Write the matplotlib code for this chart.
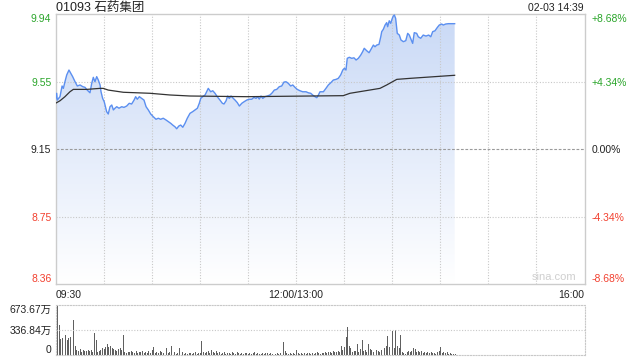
import numpy as np
import matplotlib.pyplot as plt
from matplotlib.colors import LinearSegmentedColormap

plt.rcParams['font.family'] = ['Liberation Sans', 'Noto Sans CJK SC', 'DejaVu Sans']

# Stock and session info
title = "01093 石药集团"
stamp = "02-03 14:39"
prev_close = 9.15

# Price line: trading minutes since 09:30 (lunch break removed) and price
price_min = [0, 0.75, 1.1, 2.8, 4.1, 4.9, 5.9, 7.0, 8.4, 9.5, 10.7, 12.2, 13.6, 15.3, 17, 18.4,
             19.8, 21.5, 22.6, 23.6, 24.6, 25.7, 26.7, 27.8, 28.4, 29.4, 30.4, 31.9, 32.9, 34,
             35.1, 36.1, 37.1, 38.2, 39.6, 41.3, 42.7, 44.4, 46, 47.5, 49, 50, 51, 52.3, 53.8,
             55.2, 56.5, 57.9, 59.4, 61, 62.7, 64.1, 65.6, 67.2, 68.9, 70.4, 71.9, 73.1, 74.5,
             75.6, 76.9, 78.1, 79.4, 80.8, 82.2, 83.9, 85.6, 87, 88.5, 89.7, 90.6, 91.8, 93.3,
             94.3, 95.3, 96.8, 98.1, 99.5, 100.9, 102.6, 104.1, 105.1, 106.4, 107.4, 108.4,
             109.5, 110.9, 112, 113.4, 114.7, 116.2, 117.6, 119.3, 120.7, 122.4, 123.8, 125.1,
             126.1, 127.1, 128.2, 129.3, 130.7, 132.1, 133.8, 135.2, 136.5, 138, 139.6, 141.1,
             142.5, 143.8, 145.2, 146.7, 148, 149.4, 150.8, 152.5, 154.2, 156.3, 157.7, 159.2,
             160.8, 161.9, 163, 164, 165, 167.1, 168.7, 170.2, 171.7, 173.3, 175, 176.4, 177.9,
             179.2, 180.2, 181.2, 182, 183.3, 184.8, 186.2, 187.5, 188.9, 190.4, 191.6, 192.6,
             194.1, 195.6, 196.8, 198.3, 199.3, 200.4, 201.8, 202.9, 203.5, 204.5, 205.6, 206.6,
             207.2, 208.2, 209.1, 209.9, 210.7, 211.4, 212.2, 213.2, 214.5, 215.5, 217, 218.5,
             219.7, 220.7, 221.8, 222.8, 223.8, 225.3, 226.3, 227.8, 229.4, 231.1, 232.8, 234.1,
             235.3, 236.7, 238.2, 239.4, 240.9, 241.9, 243.4, 245.1, 249]
price = [9.447, 9.479, 9.439, 9.459, 9.522, 9.508, 9.547, 9.587, 9.616, 9.597, 9.577, 9.547,
         9.522, 9.528, 9.518, 9.514, 9.498, 9.482, 9.538, 9.573, 9.547, 9.577, 9.557, 9.528,
         9.488, 9.449, 9.429, 9.371, 9.357, 9.400, 9.410, 9.381, 9.391, 9.400, 9.391, 9.400,
         9.396, 9.404, 9.420, 9.416, 9.439, 9.459, 9.444, 9.459, 9.449, 9.439, 9.400, 9.381,
         9.357, 9.341, 9.326, 9.332, 9.326, 9.332, 9.322, 9.312, 9.302, 9.292, 9.282, 9.270,
         9.286, 9.292, 9.279, 9.302, 9.332, 9.361, 9.371, 9.381, 9.391, 9.420, 9.449, 9.459,
         9.469, 9.488, 9.508, 9.488, 9.494, 9.479, 9.459, 9.439, 9.420, 9.416, 9.435, 9.463,
         9.449, 9.463, 9.449, 9.439, 9.424, 9.404, 9.420, 9.429, 9.439, 9.444, 9.444, 9.455,
         9.449, 9.459, 9.445, 9.463, 9.449, 9.459, 9.463, 9.469, 9.482, 9.498, 9.502, 9.518,
         9.522, 9.545, 9.547, 9.538, 9.522, 9.528, 9.514, 9.502, 9.494, 9.488, 9.488, 9.482,
         9.479, 9.466, 9.459, 9.453, 9.469, 9.488, 9.488, 9.508, 9.528, 9.541, 9.557, 9.561,
         9.567, 9.587, 9.616, 9.626, 9.616, 9.685, 9.691, 9.685, 9.688, 9.675, 9.685, 9.704,
         9.724, 9.744, 9.730, 9.718, 9.738, 9.763, 9.753, 9.763, 9.767, 9.812, 9.842, 9.856,
         9.881, 9.895, 9.871, 9.906, 9.891, 9.915, 9.934, 9.940, 9.920, 9.832, 9.822, 9.793,
         9.783, 9.789, 9.832, 9.822, 9.797, 9.773, 9.836, 9.832, 9.812, 9.803, 9.822, 9.816,
         9.822, 9.812, 9.842, 9.847, 9.867, 9.881, 9.887, 9.881, 9.887, 9.889, 9.889]

# Average price line
avg_min = [0, 2.8, 5.9, 9, 11.1, 19.5, 27.8, 29.8, 32.9, 42.3, 59, 71.4, 83.9, 119.3, 158.8,
           179.5, 183.7, 202.4, 206.6, 212.9, 221.2, 249]
avg_price = [9.420, 9.435, 9.459, 9.488, 9.502, 9.502, 9.508, 9.508, 9.498, 9.485, 9.479,
             9.469, 9.463, 9.459, 9.463, 9.465, 9.479, 9.508, 9.528, 9.561, 9.567, 9.585]

# Volume per minute (万 shares), 09:30 onwards
volume = [455, 665, 410, 210, 228, 255, 264, 196, 228, 237, 118, 469, 127, 68, 59, 82, 45, 73,
          59, 50, 73, 59, 68, 45, 300, 196, 45, 59, 73, 91, 82, 105, 150, 105, 127, 91, 82, 68,
          59, 82, 96, 68, 264, 36,
          27, 45, 36, 55, 41, 32, 50, 27, 45, 36, 59, 23, 41, 32, 50, 27, 68,
          105, 32, 45, 23, 50, 36, 27, 41, 100, 23, 36, 118, 27, 45, 18, 32, 91,
          23, 36, 18, 27, 14, 32, 23, 18, 27, 41, 18, 23, 32, 182, 45, 27, 36, 50, 32, 68, 36,
          27, 59,
          23, 36, 18, 27, 41, 14, 23, 32, 18, 45, 27, 14, 36, 23, 18, 27, 14, 32, 23, 18, 27,
          14, 23, 36, 18, 27, 14,
          18, 27, 14, 23, 32, 18, 27, 14, 23, 18, 32, 14, 23, 18, 173, 50, 27, 18, 23, 14, 27,
          18, 73,
          23, 14, 27, 18, 32, 14, 23, 27, 14, 32, 18, 23, 36, 27, 18, 32, 23, 41, 27, 36, 45,
          27, 55, 41,
          45, 59, 36, 127, 68, 105, 236, 373, 127, 96, 41, 50, 59, 150, 45, 82, 196, 59, 73, 36,
          150, 82, 68, 45, 59, 68, 59, 41, 73, 209, 91, 118, 255, 109, 318, 318, 96, 337, 127,
          91, 264, 45, 27, 18, 45, 55, 36, 50, 96, 82, 45, 59, 36, 50, 27, 41, 32, 36, 23, 41,
          27, 32, 18, 36, 50, 105, 27, 45, 23, 36, 18, 27, 14, 18, 9]
vol_max = 673.67

# Axis labels
pct_levels = [-8.68, -4.34, 0.0, 4.34, 8.68]
price_labels = ["8.36", "8.75", "9.15", "9.55", "9.94"]
pct_labels = ["-8.68%", "-4.34%", "0.00%", "+4.34%", "+8.68%"]
time_ticks = [0, 150, 330]
time_labels = ["09:30", "12:00/13:00", "16:00"]

green = "#2aa52a"
red = "#f2402f"
grid_c = "#c8c8c8"
level_colors = [red, red, "#222222", green, green]

levels = [prev_close * (1 + p / 100) for p in pct_levels]
y_lo, y_hi = levels[0], levels[-1]

fig = plt.figure(figsize=(6.4, 3.6), dpi=100)
W, H = 640, 360
ax = fig.add_axes([55.5 / W, 1 - 284 / H, 529 / W, (284 - 14.3) / H])
vax = fig.add_axes([55.5 / W, 1 - 355 / H, 529 / W, 50 / H])

# Gradient fill under the price line
poly = ax.fill_between(price_min, price, y_lo, color="none", lw=0)
cmap = LinearSegmentedColormap.from_list("fill", ["#ffffff", "#c9d9f6"])
grad = np.linspace(0, 1, 256).reshape(-1, 1)
im = ax.imshow(grad, extent=[0, 330, y_lo, y_hi], origin="lower", aspect="auto",
               cmap=cmap, zorder=0.5)
im.set_clip_path(poly.get_paths()[0], transform=ax.transData)

ax.plot(price_min, price, color="#5b8ff0", lw=1.0, zorder=3)
ax.plot(avg_min, avg_price, color="#333333", lw=0.9, zorder=3)

ax.set_xlim(0, 330)
ax.set_ylim(y_lo, y_hi)

# Grid
for t in range(30, 330, 30):
    ax.axvline(t, color=grid_c, lw=0.8, ls=(0, (1, 1.5)), zorder=1)
for lv, p in zip(levels[1:-1], pct_levels[1:-1]):
    if p == 0:
        ax.axhline(lv, color="#9a9a9a", lw=0.8, ls=(0, (2.5, 1.5)), zorder=1)
    else:
        ax.axhline(lv, color=grid_c, lw=0.8, ls=(0, (1, 1.5)), zorder=1)

for s in ax.spines.values():
    s.set_color("#cccccc")
    s.set_linewidth(1.0)

ax.set_yticks(levels)
ax.set_yticklabels(price_labels)
ax.tick_params(axis="y", length=0, pad=3, labelsize=7.5)
for lab, c, i in zip(ax.get_yticklabels(), level_colors, range(5)):
    lab.set_color(c)
    if i == 4:
        lab.set_va("top")
    elif i == 0:
        lab.set_va("bottom")

ax2 = ax.twinx()
ax2.set_ylim(y_lo, y_hi)
ax2.set_yticks(levels)
ax2.set_yticklabels(pct_labels)
ax2.tick_params(axis="y", length=0, pad=5, labelsize=7.5)
for s in ax2.spines.values():
    s.set_visible(False)
for lab, c, i in zip(ax2.get_yticklabels(), level_colors, range(5)):
    lab.set_color(c)
    if i == 4:
        lab.set_va("top")
    elif i == 0:
        lab.set_va("bottom")

ax.set_xticks(time_ticks)
ax.set_xticklabels(time_labels)
ax.tick_params(axis="x", length=0, pad=4, labelsize=7.5, labelcolor="#222222")
xl = ax.get_xticklabels()
xl[0].set_ha("left")
xl[2].set_ha("right")

ax.text(0.985, 0.025, "sina.com", transform=ax.transAxes, ha="right", va="center",
        fontsize=8, color="#cfcfcf")

# Volume panel
vax.bar(np.arange(len(volume)), volume, width=0.6, align="edge", color="#606060", lw=0)
vax.set_xlim(0, 330)
vax.set_ylim(0, vol_max)
vax.axhline(vol_max / 2, color=grid_c, lw=0.8, ls=(0, (1, 1.5)))
for s in vax.spines.values():
    s.set_color(grid_c)
    s.set_linestyle((0, (1, 1.5)))
    s.set_linewidth(0.8)
vax.set_xticks([])
vax.set_yticks([0, vol_max / 2, vol_max])
vax.set_yticklabels(["0", "336.84万", "673.67万"])
vax.tick_params(axis="y", length=0, pad=3, labelsize=7.5, labelcolor="#222222")
vl = vax.get_yticklabels()
vl[0].set_va("bottom")
vl[2].set_va("top")

fig.text(55.5 / W, 1 - 8 / H, title, ha="left", va="center", fontsize=9, color="#222222")
fig.text(584 / W, 1 - 8 / H, stamp, ha="right", va="center", fontsize=7.5, color="#222222")

fig.savefig("out.png", dpi=100)
